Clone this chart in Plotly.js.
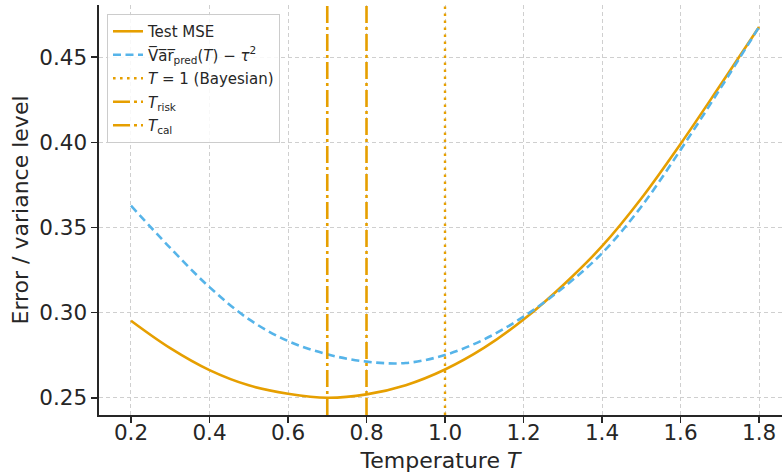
<!DOCTYPE html>
<html>
<head>
<meta charset="utf-8">
<script src="https://cdn.plot.ly/plotly-3.0.1.min.js"></script>
<style>html,body{margin:0;padding:0;background:#fff;}#chart{width:782px;height:473px;}</style>
</head>
<body>
<div id="chart"></div>
<script>
const temps = [0.2,0.3,0.4,0.5,0.6,0.7,0.8,0.9,1.0,1.1,1.2,1.3,1.4,1.5,1.6,1.7,1.8];
const testMSE = [0.2953,0.2792,0.2663,0.2574,0.2525,0.2501,0.2521,0.2575,0.2667,0.2795,0.2960,0.3160,0.3390,0.3670,0.3990,0.4330,0.4676];
const varPred = [0.3628,0.3380,0.3150,0.2962,0.2834,0.2756,0.2713,0.2705,0.2752,0.2844,0.2977,0.3145,0.3349,0.3622,0.3955,0.4310,0.4676];
const tBayes = 1.0;
const tRisk = 0.7;
const tCal = 0.8;
const labels = {
  mse: "Test MSE",
  varp: "V\u0305a\u0305r\u0305<sub>pred</sub>(<i>T</i>) \u2212 <i>\u03C4</i><sup>2</sup>",
  bayes: "<i>T</i> = 1 (Bayesian)",
  risk: "<i>T</i><sub>risk</sub>",
  cal: "<i>T</i><sub>cal</sub>"
};
const xTickVals = [0.2,0.4,0.6,0.8,1.0,1.2,1.4,1.6,1.8];
const xTickText = ["0.2","0.4","0.6","0.8","1.0","1.2","1.4","1.6","1.8"];
const yTickVals = [0.25,0.30,0.35,0.40,0.45];
const yTickText = ["0.25","0.30","0.35","0.40","0.45"];
const xTitle = "Temperature <i>T</i>";
const yTitle = "Error / variance level";

const orange = "#E69F00";
const blue = "#56B4E9";
const yRange = [0.24, 0.4805];
const xRange = [0.1185, 1.8585];

const traces = [
  {x: temps, y: testMSE, mode: "lines", name: labels.mse, legendgroup: "a", line: {color: orange, width: 2.6, shape: "spline", smoothing: 1}},
  {x: temps, y: varPred, mode: "lines", name: labels.varp, legendgroup: "b", line: {color: blue, width: 2.6, shape: "spline", smoothing: 1, dash: "8px,4.5px"}},
  {x: [tBayes, tBayes], y: yRange, mode: "lines", name: labels.bayes, legendgroup: "c", line: {color: orange, width: 2.4, dash: "2.6px,4.4px"}},
  {x: [tRisk, tRisk], y: yRange, mode: "lines", name: labels.risk, legendgroup: "d", line: {color: orange, width: 2.6, dash: "17px,4px,3px,4px"}},
  {x: [tCal, tCal], y: yRange, mode: "lines", name: labels.cal, legendgroup: "e", line: {color: orange, width: 2.6, dash: "17px,4px,3px,4px"}}
];

const font = "DejaVu Sans, sans-serif";
const ink = "#262626";
const layout = {
  width: 782, height: 473,
  margin: {l: 99, r: 0, t: 5, b: 58},
  paper_bgcolor: "#fff", plot_bgcolor: "#fff",
  font: {family: font, color: ink},
  showlegend: true,
  legend: {
    x: 0.0117, y: 0.978, xanchor: "left", yanchor: "top",
    traceorder: "grouped", tracegroupgap: 1,
    bgcolor: "rgba(255,255,255,0.85)", bordercolor: "#cccccc", borderwidth: 1,
    font: {family: font, size: 15, color: ink}
  },
  xaxis: {
    range: xRange, tickvals: xTickVals, ticktext: xTickText,
    ticks: "outside", ticklen: 6, tickwidth: 1.2, tickcolor: ink,
    ticklabelstandoff: -8,
    showline: true, linecolor: ink, linewidth: 1.6, mirror: false,
    showgrid: true, gridcolor: "#cfcfcf", griddash: "4px,3px", gridwidth: 1,
    zeroline: false,
    tickfont: {family: font, size: 21.5, color: ink},
    title: {text: xTitle, font: {family: font, size: 22, color: ink}, standoff: 13}
  },
  yaxis: {
    range: yRange, tickvals: yTickVals, ticktext: yTickText,
    ticks: "outside", ticklen: 6, tickwidth: 1.2, tickcolor: ink,
    showline: true, linecolor: ink, linewidth: 1.6, mirror: false,
    showgrid: true, gridcolor: "#cfcfcf", griddash: "4px,3px", gridwidth: 1,
    zeroline: false,
    tickfont: {family: font, size: 21.5, color: ink},
    title: {text: yTitle, font: {family: font, size: 22, color: ink}, standoff: 4}
  }
};
Plotly.newPlot("chart", traces, layout, {staticPlot: true, displayModeBar: false});
</script>
</body>
</html>
